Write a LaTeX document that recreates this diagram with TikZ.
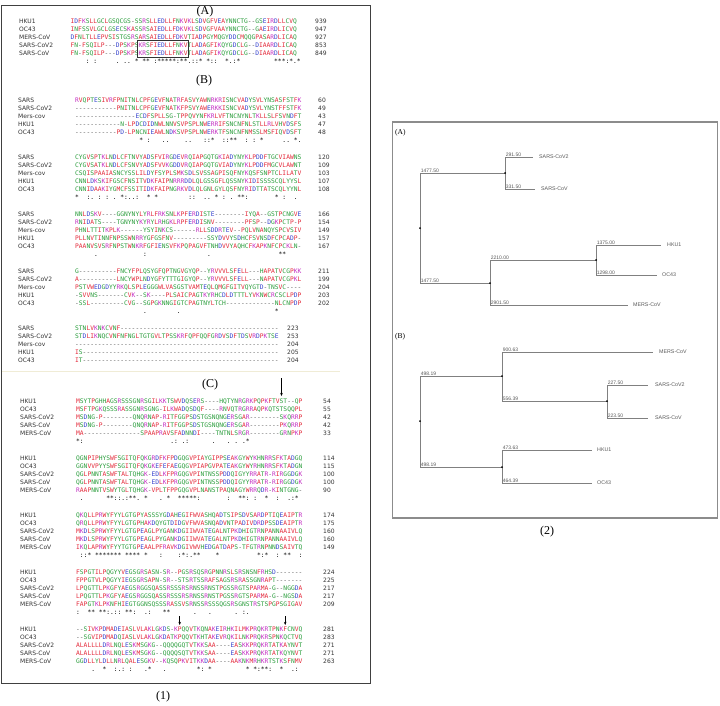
\documentclass[tikz,border=0pt]{standalone}
\usepackage{fontspec}
\setmainfont{Liberation Serif}
\newfontfamily\seqfont{DejaVu Sans Mono}
\newfontfamily\namefont{DejaVu Sans}
\newfontfamily\treefont{Liberation Sans}
\usetikzlibrary{positioning,arrows.meta}

\definecolor{resred}{RGB}{228,42,58}
\definecolor{resblue}{RGB}{52,64,205}
\definecolor{resmag}{RGB}{196,48,196}
\definecolor{resgreen}{RGB}{44,158,62}
\definecolor{gapgray}{RGB}{90,90,90}
\definecolor{treegray}{RGB}{128,128,128}
\definecolor{framegray}{RGB}{140,140,140}
\definecolor{faintline}{RGB}{240,236,214}

% residue colouring (Clustal style), | stands for an empty column
\ExplSyntaxOn
\cs_new_protected:Npn \aln_res:n #1
 {
  \str_if_in:nnTF { AVFPMILW } {#1}
   { \textcolor{resred}{#1} }
   {
    \str_if_in:nnTF { DE } {#1}
     { \textcolor{resblue}{#1} }
     {
      \str_if_in:nnTF { RK } {#1}
       { \textcolor{resmag}{#1} }
       {
        \str_if_in:nnTF { STYHCNGQ } {#1}
         { \textcolor{resgreen}{#1} }
         {
          \str_if_eq:nnTF {#1} { | }
           { \hphantom{A} }
           {
            \str_if_eq:nnTF {#1} { - }
             { \textcolor{gapgray}{-} }
             {#1}
           }
         }
       }
     }
   }
 }
\NewDocumentCommand \resseq { m }
 { \tl_map_function:nN {#1} \aln_res:n }
\ExplSyntaxOff

% one alignment row: id, y, name, residues, count
\newcommand{\alnrow}[5]{%
  \node[seqname] (n#1) at (\nameX,#2) {#3};
  \node[seqres] (s#1) at (\seqX,#2) {\resseq{#4}};
  \node[seqnum] (c#1) at (\numX,#2) {#5};}
\newcommand{\alncons}[3]{%
  \node[seqres] (k#1) at (\seqX,#2) {\resseq{#3}};}

\begin{document}
\begin{tikzpicture}[x=1pt,y=-1pt]
  \tikzstyle{seqname}=[anchor=west,inner sep=0pt,text height=4.4pt,text depth=0pt,font=\namefont\fontsize{6}{7}\selectfont,text=black!80]
  \tikzstyle{seqnum}=[anchor=west,inner sep=0pt,text height=4.4pt,text depth=0pt,font=\namefont\fontsize{6}{7}\selectfont,text=black!80]
  \tikzstyle{seqres}=[anchor=west,inner sep=0pt,text height=4.6pt,text depth=0pt,font=\seqfont\fontsize{6.26}{8}\selectfont]
  \tikzstyle{panel}=[font=\fontsize{12}{14}\selectfont,inner sep=0pt]
  \tikzstyle{pointer}=[-{Stealth[length=3.2pt,width=2.6pt]},line width=0.6pt,black]
  \tikzstyle{branch}=[draw=treegray,line width=0.8pt]
  \tikzstyle{blen}=[font=\treefont\fontsize{5}{5}\selectfont,text=black!65,inner sep=0.6pt,anchor=south west]
  \tikzstyle{leaf}=[font=\treefont\fontsize{5.3}{6}\selectfont,text=black!65,inner sep=0pt,anchor=west]
  \tikzstyle{dot}=[circle,fill=black,inner sep=0pt,minimum size=2pt]

  \useasboundingbox (0,0) rectangle (720,705);
  \fill[white] (0,0) rectangle (720,705);

  % ---------- left panel (1) ----------
  \draw[black!75,line width=0.8pt] (1.5,5) rectangle (370.5,683);
  \node[panel] (capOne) at (163,697) {(1)};

  % (A)
  \node[panel] (titleA) at (205,12) {(A)};
  \def\nameX{19}\def\seqX{70.5}\def\numX{315}
  \alnrow{A-1}{21}{HKU1}{IDFKSLLGCLGSQCGS-SSRSLLEDLLFNKVKLSDVGFVEAYNNCTG--GSEIRDLLCVQ}{939}
  \alnrow{A-2}{29}{OC43}{INFSSVLGCLGSECSKASSRSAIEDLLFDKVKLSDVGFVAAYNNCTG--GAEIRDLICVQ}{947}
  \alnrow{A-3}{37}{MERS-CoV}{DFNLTLLEPVSISTGSRSARSAIEDLLFDKVTIADPGYMQGYDDCMQQGPASARDLICAQ}{927}
  \alnrow{A-4}{45}{SARS-CoV2}{FN-FSQILP---DPSKPSKRSFIEDLLFNKVTLADAGFIKQYGDCLG--DIAARDLICAQ}{853}
  \alnrow{A-5}{53}{SARS-CoV}{FN-FSQILP---DPSKPSKRSFIEDLLFNKVTLADAGFIKQYGDCLG--DIAARDLICAQ}{849}
  \alncons{A}{61}{||||:|:|||||.|..|*|**|:*****:**.::*|*::||*.:*|||||||||***:*.*}
  \draw[black!80,line width=0.7pt] (137.5,40.5) rectangle (188.5,57.5);

  % (B)
  \node[panel] (titleB) at (204,81) {(B)};
  \def\nameX{18}\def\seqX{75}\def\numX{318}
  \alnrow{B1-1}{100}{SARS}{RVQPTESIVRFPNITNLCPFGEVFNATRFASVYAWNRKRISNCVADYSVLYNSASFSTFK}{60}
  \alnrow{B1-2}{108}{SARS-CoV2}{-----------PNITNLCPFGEVFNATKFPSVYAWERKKISNCVADYSVLYNSTFFSTFK}{49}
  \alnrow{B1-3}{116}{Mers-cov}{----------------ECDFSPLLSG-TPPQVYNFKRLVFTNCNYNLTKLLSLFSVNDFT}{43}
  \alnrow{B1-4}{124}{HKU1}{------------N-LPDCDIDNWLNNVSVPSPLNWERRIFSNCNFNLSTLLRLVHVDSFS}{47}
  \alnrow{B1-5}{132}{OC43}{-----------PD-LPNCNIEAWLNDKSVPSPLNWERKTFSNCNFNMSSLMSFIQVDSFT}{48}
  \alncons{B1}{140}{|||||||||||||||||*|:|||..||||..|||::*||::**||:|:|*|||||..|*.}

  \alnrow{B2-1}{157}{SARS}{CYGVSPTKLNDLCFTNVYADSFVIRGDEVRQIAPGQTGKIADYNYKLPDDFTGCVIAWNS}{120}
  \alnrow{B2-2}{165}{SARS-CoV2}{CYGVSATKLNDLCFSNVYADSFVVKGDDVRQIAPGQTGVIADYNYKLPDDFMGCVLAWNT}{109}
  \alnrow{B2-3}{173}{Mers-cov}{CSQISPAAIASNCYSSLILDYFSYPLSMKSDLSVSSAGPISQFNYKQSFSNPTCLILATV}{103}
  \alnrow{B2-4}{181}{HKU1}{CNNLDKSKIFGSCFNSITVDKFAIPNRRRDDLQLGSSGFLQSSNYKIDISSSSCQLYYSL}{107}
  \alnrow{B2-5}{189}{OC43}{CNNIDAAKIYGMCFSSITIDKFAIPNGRKVDLQLGNLGYLQSFNYRIDTTATSCQLYYNL}{108}
  \alncons{B2}{197}{*||:.|:|:|.|*:..:||*|*||||||||::||..|*|:|.|**:|||||||*|:||.|}

  \alnrow{B3-1}{214}{SARS}{NNLDSKV----GGNYNYLYRLFRKSNLKPFERDISTE--------IYQA--GSTPCNGVE}{166}
  \alnrow{B3-2}{222}{SARS-CoV2}{RNIDATS----TGNYNYKYRYLRHGKLRPFERDISNV--------PFSP--DGKPCTP-P}{154}
  \alnrow{B3-3}{230}{Mers-cov}{PHNLTTITKPLK------YSYINKCS------RLLSDDRTEV--PQLVNANQYSPCVSIV}{149}
  \alnrow{B3-4}{238}{HKU1}{PLLNVTINNFNPSSWNRRYGFGSFNV---------SSYDVVYSDHCFSVNSDFCPCADP-}{157}
  \alnrow{B3-5}{246}{OC43}{PAANVSVSRFNPSTWNKRFGFIENSVFKPQPAGVFTNHDVVYAQHCFKAPKNFCPCKLN-}{167}
  \alncons{B3}{254}{|||||.||||||||||||:||||||||||||||||.||||||||||||||||||**||||}

  \alnrow{B4-1}{271}{SARS}{G----------FNCYFPLQSYGFQPTNGVGYQP--YRVVVLSFELL---HAPATVCGPKK}{211}
  \alnrow{B4-2}{279}{SARS-CoV2}{A----------LNCYWPLNDYGFYTTTGIGYQP--YRVVVLSFELL---NAPATVCGPKL}{199}
  \alnrow{B4-3}{287}{Mers-cov}{PSTVWEDGDYYRKQLSPLEGGGWLVASGSTVAMTEQLQMGFGITVQYGTD-TNSVC----}{204}
  \alnrow{B4-4}{295}{HKU1}{-SVVNS-------CVK--SK----PLSAICPAGTKYRHCDLDTTTLYVKNWCRCSCLPDP}{203}
  \alnrow{B4-5}{303}{OC43}{-SSL---------CVG--SGPGKNNGIGTCPAGTNYLTCH-------------NLCNPDP}{202}
  \alncons{B4}{311}{||||||||||||||||||.||||||||.|||||||||||||||||||||||||*||||}

  \def\numX{287}
  \alnrow{B5-1}{328}{SARS}{STNLVKNKCVNF------------------------------------------}{223}
  \alnrow{B5-2}{336}{SARS-CoV2}{STDLIKNQCVNFNFNGLTGTGVLTPSSKRFQPFQQFGRDVSDFTDSVRDPKTSE}{253}
  \alnrow{B5-3}{344}{Mers-cov}{------------------------------------------------------}{204}
  \alnrow{B5-4}{352}{HKU1}{IS----------------------------------------------------}{205}
  \alnrow{B5-5}{360}{OC43}{IT----------------------------------------------------}{204}

  \draw[faintline,line width=0.6pt] (2,371) -- (340,371);

  % (C)
  \node[panel] (titleC) at (210,385) {(C)};
  \def\nameX{20}\def\seqX{76}\def\numX{323}
  \alnrow{C1-1}{401}{HKU1}{MSYTPGHHAGSRSSSGNRSGILKKTSWVDQSERS----HQTYNRGRKPQPKFTVST--QP}{54}
  \alnrow{C1-2}{409}{OC43}{MSFTPGKQSSSRASSGNRSGNG-ILKWADQSDQF----RNVQTRGRRAQPKQTSTSQQPL}{55}
  \alnrow{C1-3}{417}{SARS-CoV2}{MSDNG-P--------QNQRNAP-RITFGGPSDSTGSNQNGERSGAR--------SKQRRP}{42}
  \alnrow{C1-4}{425}{SARS-CoV}{MSDNG-P--------QNQRNAP-RITFGGPSDSTGSNQNGERSGAR--------PKQRRP}{42}
  \alnrow{C1-5}{433}{MERS-CoV}{MA---------------SPAAPRAVSFADNNDI----TNTNLSRGR--------GRNPKP}{33}
  \alncons{C1}{441}{*:|||||||||||||||||||||||.:|.:||||||.|||.|.|.*||||||||||||||}
  \coordinate (arC1a) at (281.5,378);
  \coordinate (arC1b) at (281.5,396);
  \draw[pointer] (arC1a) -- (arC1b);

  \alnrow{C2-1}{458}{HKU1}{QGNPIPHYSWFSGITQFQKGRDFKFPDGQGVPIAYGIPPSEAKGYWYKHNRRSFKTADGQ}{114}
  \alnrow{C2-2}{466}{OC43}{GGNVVPYYSWFSGITQFQKGKEFEFAEGQGVPIAPGVPATEAKGYWYRHNRRSFKTADGN}{115}
  \alnrow{C2-3}{474}{SARS-CoV2}{QGLPNNTASWFTALTQHGK-EDLKFPRGQGVPINTNSSPDDQIGYYRRATR-RIRGGDGK}{100}
  \alnrow{C2-4}{482}{SARS-CoV}{QGLPNNTASWFTALTQHGK-EDLKFPRGQGVPINTNSSPDDQIGYYRRATR-RIRGGDGK}{100}
  \alnrow{C2-5}{490}{MERS-CoV}{RAAPNNTVSWYTGLTQHGK-VPLTFPPGQGVPLNANSTPAQNAGYWRRQDR-KINTGNG-}{90}
  \alncons{C2}{498}{|.||||||**::.:**.|*|||.|*||*****:|||||||:||**:|:||*||:||.:*|}

  \alnrow{C3-1}{515}{HKU1}{QKQLLPRWYFYYLGTGPYASSSYGDAHEGIFWVASHQADTSIPSDVSARDPTIQEAIPTR}{174}
  \alnrow{C3-2}{523}{OC43}{QRQLLPRWYFYYLGTGPHAKDQYGTDIDGVFWVASNQADVNTPADIVDRDPSSDEAIPTR}{175}
  \alnrow{C3-3}{531}{SARS-CoV2}{MKDLSPRWYFYYLGTGPEAGLPYGANKDGIIWVATEGALNTPKDHIGTRNPANNAAIVLQ}{160}
  \alnrow{C3-4}{539}{SARS-CoV}{MKDLSPRWYFYYLGTGPEAGLPYGANKDGIIWVATEGALNTPKDHIGTRNPANNAAIVLQ}{160}
  \alnrow{C3-5}{547}{MERS-CoV}{IKQLAPRWYFYYTGTGPEAALPFRAVKDGIVWVHEDGATDAPS-TFGTRNPNNDSAIVTQ}{149}
  \alncons{C3}{555}{|::*|*******|****|*|||:||||:*:.**||||*||||||||||*:*||:|**||:}

  \alnrow{C4-1}{572}{HKU1}{FSPGTILPQGYYVEGSGRSASN-SR--PGSRSQSRGPNNRSLSRSNSNFRHSD-------}{224}
  \alnrow{C4-2}{580}{OC43}{FPPGTVLPQGYYIEGSGRSAPN-SR--STSRTSSRAFSAGSRSRASSGNRAPT-------}{225}
  \alnrow{C4-3}{588}{SARS-CoV2}{LPQGTTLPKGFYAEGSRGGSQASSRSSSRSRNSSRNSTPGSSRGTSPARMA-G--NGGDA}{217}
  \alnrow{C4-4}{596}{SARS-CoV}{LPQGTTLPKGFYAEGSRGGSQASSRSSSRSRNSSRNSTPGSSRGTSPARMA-G--NGSDA}{217}
  \alnrow{C4-5}{604}{MERS-CoV}{FAPGTKLPKNFHIEGTGGNSQSSSRASSVSRNSSRSSSQGSRSGNSTRSTSPGPSGIGAV}{209}
  \alncons{C4}{612}{:||**|**:.::|**:||.:|||**||||||.|||.||||||.|:.||||||||||||||}
  \coordinate (arC5a) at (179.7,616);
  \coordinate (arC5b) at (179.7,625);
  \coordinate (arC5c) at (285.2,616);
  \coordinate (arC5d) at (285.2,625);
  \draw[pointer] (arC5a) -- (arC5b);
  \draw[pointer] (arC5c) -- (arC5d);

  \alnrow{C5-1}{629}{HKU1}{--SIVKPDMADEIASLVLAKLGKDS-KPQQVTKQNAKEIRHKILMKPRQKRTPNKFCNVQ}{281}
  \alnrow{C5-2}{637}{OC43}{--SGVIPDMADQIASLVLAKLGKDATKPQQVTKHTAKEVRQKILNKPRQKRSPNKQCTVQ}{283}
  \alnrow{C5-3}{645}{SARS-CoV2}{ALALLLLDRLNQLESKMSGKG--QQQQGQTVTKKSAA----EASKKPRQKRTATKAYNVT}{271}
  \alnrow{C5-4}{653}{SARS-CoV}{ALALLLLDRLNQLESKMSGKG--QQQQSQTVTKKSAA----EASKKPRQKRTATKQYNVT}{271}
  \alnrow{C5-5}{661}{MERS-CoV}{GGDLLYLDLLNRLQALESGKV--KQSQPKVITKKDAA----AAKNKMRHKRTSTKSFNMV}{263}
  \alncons{C5}{669}{||||.||*||:.:|:|||.*|||.||||||||*:|*|||||||||*|*:**:||*||.:|}

  % ---------- right panel (2) ----------
  \draw[framegray,line width=1.8pt] (392.5,122) rectangle (717.5,518);
  \node[panel] (capTwo) at (547,532) {(2)};

  % tree (A)
  \node[anchor=west,inner sep=0pt,font=\fontsize{7.5}{8}\selectfont] (treeA) at (395,133) {(A)};
  \coordinate (rA) at (420,228);
  \coordinate (sA) at (505,173);
  \coordinate (mA) at (490,283);
  \coordinate (hA) at (596,260);
  \coordinate (lA1) at (533,157);
  \coordinate (lA2) at (535,189);
  \coordinate (lA3) at (661,245);
  \coordinate (lA4) at (657,275);
  \coordinate (lA5) at (628,305);
  \draw[branch] (rA) |- (sA);
  \draw[branch] (rA) |- (mA);
  \draw[branch] (sA) |- (lA1);
  \draw[branch] (sA) |- (lA2);
  \draw[branch] (mA) |- (hA);
  \draw[branch] (mA) |- (lA5);
  \draw[branch] (hA) |- (lA3);
  \draw[branch] (hA) |- (lA4);
  \node[blen] (bA1) at (rA |- sA) {1477.50};
  \node[blen] (bA2) at (rA |- mA) {1477.50};
  \node[blen] (bA3) at (sA |- lA1) {291.50};
  \node[blen] (bA4) at (sA |- lA2) {331.50};
  \node[blen] (bA5) at (mA |- hA) {2210.00};
  \node[blen] (bA6) at (mA |- lA5) {2901.50};
  \node[blen] (bA7) at (hA |- lA3) {1375.00};
  \node[blen] (bA8) at (hA |- lA4) {1298.00};
  \node[leaf,right=6pt of lA1] (tA1) {SARS-CoV2};
  \node[leaf,right=6pt of lA2] (tA2) {SARS-CoV};
  \node[leaf,right=6pt of lA3] (tA3) {HKU1};
  \node[leaf,right=5pt of lA4] (tA4) {OC43};
  \node[leaf,right=5pt of lA5] (tA5) {MERS-CoV};
  \node[dot] (dA1) at (rA) {};
  \node[dot] (dA2) at (sA) {};
  \node[dot] (dA3) at (mA) {};
  \node[dot] (dA4) at (hA) {};

  % tree (B)
  \node[anchor=west,inner sep=0pt,font=\fontsize{7.5}{8}\selectfont] (treeB) at (395,337) {(B)};
  \coordinate (rB) at (420,421);
  \coordinate (mB) at (502,376);
  \coordinate (sB) at (607,401);
  \coordinate (hB) at (502,467);
  \coordinate (lB1) at (653,352);
  \coordinate (lB2) at (648,385);
  \coordinate (lB3) at (648,418);
  \coordinate (lB4) at (592,450);
  \coordinate (lB5) at (592,483);
  \draw[branch] (rB) |- (mB);
  \draw[branch] (rB) |- (hB);
  \draw[branch] (mB) |- (lB1);
  \draw[branch] (mB) |- (sB);
  \draw[branch] (sB) |- (lB2);
  \draw[branch] (sB) |- (lB3);
  \draw[branch] (hB) |- (lB4);
  \draw[branch] (hB) |- (lB5);
  \node[blen] (bB1) at (rB |- mB) {498.19};
  \node[blen] (bB2) at (rB |- hB) {498.19};
  \node[blen] (bB3) at (mB |- lB1) {900.63};
  \node[blen] (bB4) at (mB |- sB) {556.39};
  \node[blen] (bB5) at (sB |- lB2) {227.50};
  \node[blen] (bB6) at (sB |- lB3) {223.50};
  \node[blen] (bB7) at (hB |- lB4) {473.63};
  \node[blen] (bB8) at (hB |- lB5) {464.39};
  \node[leaf,right=6pt of lB1] (tB1) {MERS-CoV};
  \node[leaf,right=7pt of lB2] (tB2) {SARS-CoV2};
  \node[leaf,right=7pt of lB3] (tB3) {SARS-CoV};
  \node[leaf,right=5pt of lB4] (tB4) {HKU1};
  \node[leaf,right=5pt of lB5] (tB5) {OC43};
  \node[dot] (dB1) at (rB) {};
  \node[dot] (dB2) at (mB) {};
  \node[dot] (dB3) at (sB) {};
  \node[dot] (dB4) at (hB) {};
\end{tikzpicture}
\end{document}
